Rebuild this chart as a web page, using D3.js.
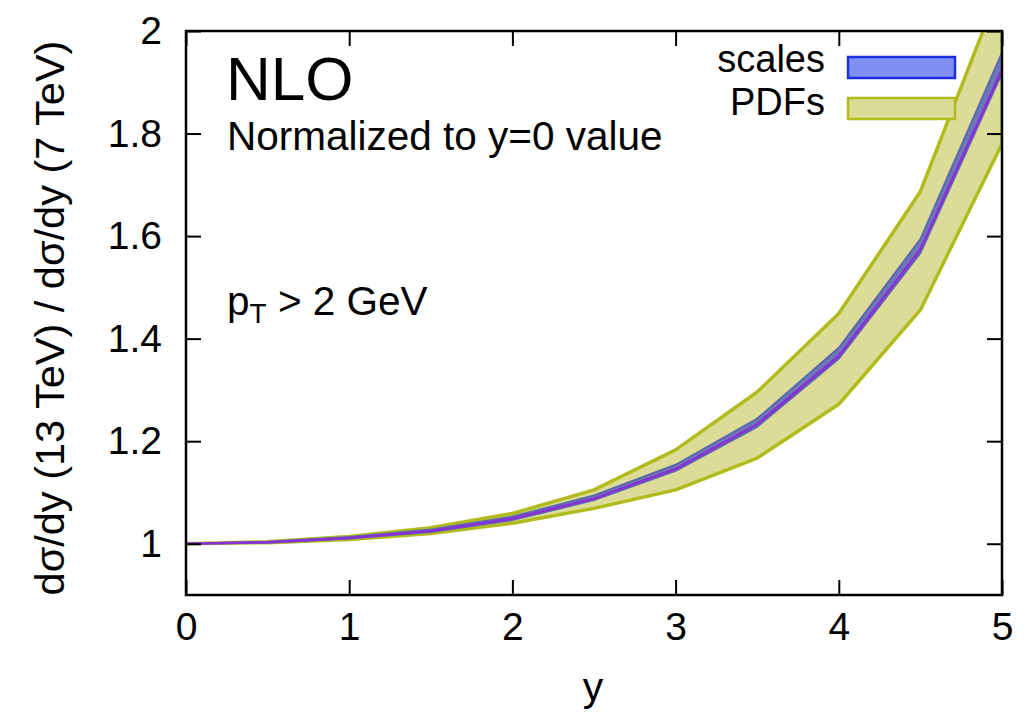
<!DOCTYPE html>
<html>
<head>
<meta charset="utf-8">
<script src="https://cdn.jsdelivr.net/npm/d3@7"></script>
<style>
  html, body { margin: 0; padding: 0; background: #fff; }
  svg { display: block; font-family: "Liberation Sans", Arial, Helvetica, sans-serif; }
</style>
</head>
<body>
<svg id="chart" width="1031" height="719"></svg>
<script>
// Rapidity points and ratio values (13 TeV / 7 TeV, normalized at y = 0)
const rapidity = [0, 0.5, 1, 1.5, 2, 2.5, 3, 3.5, 4, 4.5, 5];
const central  = [1, 1.003, 1.011, 1.025, 1.049, 1.088, 1.146, 1.233, 1.366, 1.574, 1.925];
const scaleHi  = [1, 1.004, 1.013, 1.028, 1.053, 1.094, 1.154, 1.244, 1.382, 1.594, 1.958];
const scaleLo  = [1, 1.002, 1.010, 1.023, 1.046, 1.085, 1.142, 1.228, 1.361, 1.567, 1.918];
const pdfHi    = [1, 1.004, 1.014, 1.031, 1.059, 1.105, 1.183, 1.296, 1.449, 1.687, 2.095];
const pdfLo    = [1, 1.002, 1.008, 1.020, 1.040, 1.069, 1.105, 1.167, 1.272, 1.456, 1.780];

const xTicks = [0, 1, 2, 3, 4, 5];
const yTicks = [1, 1.2, 1.4, 1.6, 1.8, 2];
const legendLabels = ["scales", "PDFs"];

const svg = d3.select("#chart");
const m = { left: 186, top: 31, right: 1002, bottom: 595 };

const x = d3.scaleLinear().domain([0, 5]).range([m.left, m.right]);
const y = d3.scaleLinear().domain([0.9, 2]).range([m.bottom, m.top]);

const rows = rapidity.map((r, i) => ({
  r, c: central[i], sh: scaleHi[i], sl: scaleLo[i], ph: pdfHi[i], pl: pdfLo[i]
}));

svg.append("defs").append("clipPath").attr("id", "plotclip")
  .append("rect")
  .attr("x", m.left).attr("y", m.top)
  .attr("width", m.right - m.left).attr("height", m.bottom - m.top);

const plot = svg.append("g").attr("clip-path", "url(#plotclip)");

const pdfArea = d3.area().x(d => x(d.r)).y0(d => y(d.pl)).y1(d => y(d.ph));
const scaleArea = d3.area().x(d => x(d.r)).y0(d => y(d.sl)).y1(d => y(d.sh));

// PDF uncertainty band
plot.append("path").datum(rows)
  .attr("d", pdfArea)
  .attr("fill", "#dcdc98")
  .attr("stroke", "#b2bb1c")
  .attr("stroke-width", 3.5)
  .attr("stroke-linejoin", "round");

// scale uncertainty band
plot.append("path").datum(rows)
  .attr("d", scaleArea)
  .attr("fill", "#6d78b8")
  .attr("stroke", "#5d69ad")
  .attr("stroke-width", 2)
  .attr("stroke-linejoin", "round");

// central value
plot.append("path").datum(rows)
  .attr("d", d3.line().x(d => x(d.r)).y(d => y(d.c)))
  .attr("fill", "none")
  .attr("stroke", "#8a2fd8")
  .attr("stroke-width", 2.5);

// axes with inward ticks on all four sides
const tickLen = 15;
const fontTick = 39;

const axB = svg.append("g").attr("transform", `translate(0,${m.bottom})`)
  .call(d3.axisBottom(x).tickValues(xTicks).tickSizeInner(-tickLen).tickSizeOuter(0).tickPadding(17).tickFormat(d3.format("d")));
const axT = svg.append("g").attr("transform", `translate(0,${m.top})`)
  .call(d3.axisTop(x).tickValues(xTicks).tickSizeInner(-tickLen).tickSizeOuter(0).tickFormat(""));
const axL = svg.append("g").attr("transform", `translate(${m.left},0)`)
  .call(d3.axisLeft(y).tickValues(yTicks).tickSizeInner(-tickLen).tickSizeOuter(0).tickPadding(24).tickFormat(d => d === 1 || d === 2 ? d3.format("d")(d) : d3.format(".1f")(d)));
const axR = svg.append("g").attr("transform", `translate(${m.right},0)`)
  .call(d3.axisRight(y).tickValues(yTicks).tickSizeInner(-tickLen).tickSizeOuter(0).tickFormat(""));

[axB, axT, axL, axR].forEach(g => {
  g.select(".domain").remove();
  g.selectAll(".tick line").attr("stroke", "#000").attr("stroke-width", 2);
  g.selectAll(".tick text").attr("fill", "#000").attr("font-size", fontTick)
    .attr("font-family", "Liberation Sans, Arial, sans-serif");
});
axB.selectAll(".tick text").attr("dy", "0.71em");

// frame
svg.append("rect")
  .attr("x", m.left).attr("y", m.top)
  .attr("width", m.right - m.left).attr("height", m.bottom - m.top)
  .attr("fill", "none").attr("stroke", "#000").attr("stroke-width", 2.5);

// axis titles
svg.append("text")
  .attr("x", (m.left + m.right) / 2 - 1).attr("y", 701)
  .attr("text-anchor", "middle").attr("font-size", 41)
  .text("y");

svg.append("text")
  .attr("transform", `translate(64,${(m.top + m.bottom) / 2 + 5}) rotate(-90)`)
  .attr("text-anchor", "middle").attr("font-size", 41.5)
  .text("dσ/dy (13 TeV) / dσ/dy (7 TeV)");

// annotations
svg.append("text").attr("x", 226).attr("y", 100).attr("font-size", 62).text("NLO");
svg.append("text").attr("x", 227).attr("y", 150).attr("font-size", 40.5).text("Normalized to y=0 value");

const pt = svg.append("text").attr("x", 227).attr("y", 315).attr("font-size", 40.5);
pt.append("tspan").text("p");
pt.append("tspan").attr("font-size", 28).attr("dy", 8).text("T");
pt.append("tspan").attr("dy", -8).text(" > 2 GeV");

// legend
const legend = svg.append("g");
const legendStyles = [
  { fill: "#8090f2", stroke: "#1d2fe0", dy: 4.5 },
  { fill: "#dcdc98", stroke: "#b2bb1c", dy: 6 }
];
const ly = d3.scalePoint().domain(legendLabels).range([67.5, 108.5]);
legendLabels.forEach((lab, i) => {
  legend.append("text")
    .attr("x", 825).attr("y", ly(lab) + legendStyles[i].dy)
    .attr("text-anchor", "end").attr("font-size", 38)
    .text(lab);
  legend.append("rect")
    .attr("x", 848).attr("y", ly(lab) - 10.5)
    .attr("width", 107).attr("height", 21)
    .attr("fill", legendStyles[i].fill)
    .attr("stroke", legendStyles[i].stroke)
    .attr("stroke-width", 2.5);
});
</script>
</body>
</html>
